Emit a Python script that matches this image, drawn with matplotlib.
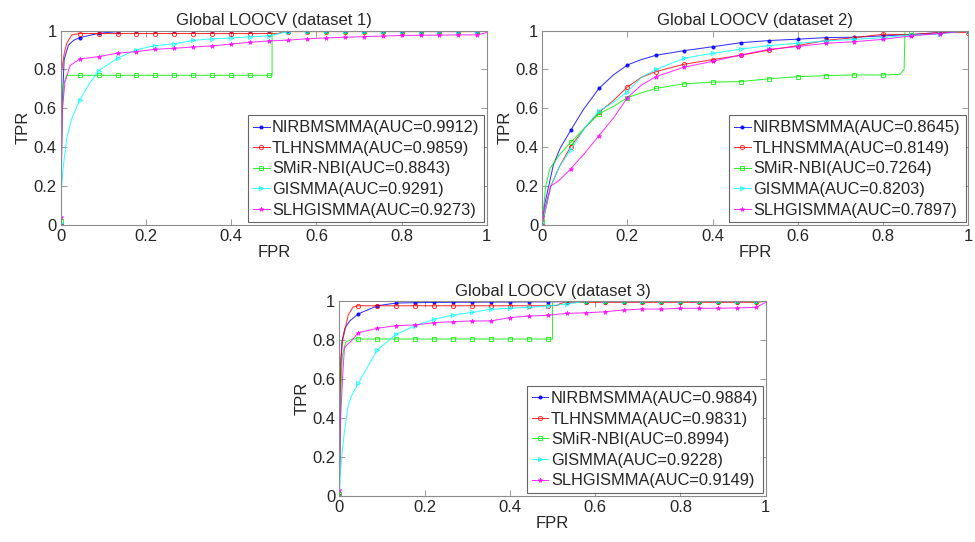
import numpy as np
import matplotlib
matplotlib.use("Agg")
import matplotlib.pyplot as plt

plt.rcParams["font.family"] = ["Liberation Sans", "DejaVu Sans"]

methods = ["NIRBMSMMA", "TLHNSMMA", "SMiR-NBI", "GISMMA", "SLHGISMMA"]
titles = ["Global LOOCV (dataset 1)", "Global LOOCV (dataset 2)", "Global LOOCV (dataset 3)"]
auc = [
    [0.9912, 0.9859, 0.8843, 0.9291, 0.9273],
    [0.8645, 0.8149, 0.7264, 0.8203, 0.7897],
    [0.9884, 0.9831, 0.8994, 0.9228, 0.9149],
]
tick_labels = ["0", "0.2", "0.4", "0.6", "0.8", "1"]

# marker grid of the curves (datasets 1 and 3 every 2/45, dataset 2 every 1/15)
g45 = [0.0444, 0.0889, 0.1333, 0.1778, 0.2222, 0.2667, 0.3111, 0.3556, 0.4, 0.4444, 0.4889,
       0.5333, 0.5778, 0.6222, 0.6667, 0.7111, 0.7556, 0.8, 0.8444, 0.8889, 0.9333, 0.9778]
mark_step = [2 / 45, 1 / 15, 2 / 45]

# ---- dataset 1 ----
d1_nir_x = [0, 0.003, 0.008, 0.018, 0.03] + g45 + [1.0]
d1_nir_y = [0, 0.6, 0.85, 0.925, 0.95,
            0.964, 0.986, 0.995, 0.996, 0.997, 0.997, 0.998, 0.998, 0.998, 0.998, 0.998,
            0.998, 0.998, 0.998, 0.998, 0.998, 0.998, 0.998, 0.999, 0.999, 0.999, 0.999, 1.0]
d1_tlh_x = [0, 0.002, 0.008, 0.014, 0.026] + g45[:11] + [0.51, 0.52] + g45[11:] + [1.0]
d1_tlh_y = [0, 0.79, 0.88, 0.935, 0.978] + [0.985] * 11 + [0.985, 0.993] + [0.995] * 11 + [1.0]
d1_smi_x = [0, 0.002, 0.006, 0.014] + g45[:11] + [0.496, 0.496] + g45[11:] + [1.0]
d1_smi_y = [0.02, 0.45, 0.72, 0.77] + [0.77] * 11 + [0.77, 0.998] + [0.998] * 11 + [1.0]
d1_gis_x = [0, 0.002, 0.006, 0.014, 0.026, 0.0444, 0.065] + g45[1:] + [1.0]
d1_gis_y = [0.01, 0.2, 0.3, 0.446, 0.549, 0.643, 0.72,
            0.794, 0.858, 0.902, 0.923, 0.932, 0.95, 0.958, 0.962, 0.968, 0.973, 0.995,
            0.997, 0.997, 0.998, 0.998, 0.998, 0.998, 0.998, 0.998, 0.998, 0.998, 1.0]
d1_slh_x = [0, 0.004, 0.01, 0.022] + g45 + [1.0]
d1_slh_y = [0.04, 0.6, 0.737, 0.82,
            0.854, 0.866, 0.884, 0.892, 0.904, 0.909, 0.916, 0.921, 0.931, 0.94, 0.947,
            0.951, 0.958, 0.962, 0.966, 0.969, 0.972, 0.975, 0.976, 0.977, 0.978, 0.978, 0.99]

# ---- dataset 2 ----
d2_nir_x = [0, 0.005, 0.015, 0.026, 0.042, 0.0667, 0.096, 0.1333, 0.167, 0.2, 0.23, 0.2667,
            0.3333, 0.4, 0.4667, 0.5333, 0.6, 0.6667, 0.7333, 0.8, 0.8667, 0.9333, 1.0]
d2_nir_y = [0, 0.1, 0.2, 0.309, 0.395, 0.487, 0.592, 0.703, 0.772, 0.823, 0.849, 0.873,
            0.897, 0.917, 0.938, 0.949, 0.956, 0.964, 0.966, 0.973, 0.98, 0.99, 1.0]
d2_tlh_x = [0, 0.01, 0.02, 0.04, 0.0667, 0.1, 0.1333, 0.167, 0.2, 0.233, 0.2667, 0.3333,
            0.4, 0.4667, 0.5333, 0.6, 0.6667, 0.7333, 0.8, 0.8667, 0.9333, 1.0]
d2_tlh_y = [0, 0.1, 0.2, 0.3, 0.403, 0.5, 0.58, 0.64, 0.71, 0.76, 0.789, 0.827,
            0.851, 0.873, 0.9, 0.923, 0.95, 0.964, 0.981, 0.98, 0.99, 0.99]
d2_smi_x = [0, 0.008, 0.018, 0.04, 0.0667, 0.1, 0.1333, 0.167, 0.2, 0.233, 0.2667, 0.3333,
            0.4, 0.4667, 0.5333, 0.6, 0.6667, 0.7333, 0.8, 0.84, 0.85, 0.852, 0.8667, 0.9333, 1.0]
d2_smi_y = [0.02, 0.2, 0.29, 0.36, 0.425, 0.5, 0.572, 0.61, 0.655, 0.68, 0.703, 0.726,
            0.735, 0.738, 0.752, 0.763, 0.768, 0.772, 0.772, 0.775, 0.8, 1.0, 1.0, 1.0, 1.0]
d2_gis_x = [0, 0.02, 0.04, 0.0667, 0.1, 0.1333, 0.167, 0.2, 0.233, 0.2667, 0.3333,
            0.4, 0.4667, 0.5333, 0.6, 0.6667, 0.7333, 0.8, 0.8667, 0.9333, 1.0]
d2_gis_y = [0.01, 0.2, 0.3, 0.386, 0.5, 0.587, 0.63, 0.686, 0.76, 0.8, 0.858,
            0.883, 0.905, 0.923, 0.935, 0.947, 0.955, 0.964, 0.978, 0.982, 1.0]
d2_slh_x = [0, 0.01, 0.02, 0.04, 0.0667, 0.1, 0.1333, 0.167, 0.2, 0.233, 0.2667, 0.3333,
            0.4, 0.4667, 0.5333, 0.6, 0.6667, 0.7333, 0.8, 0.8667, 0.9333, 1.0]
d2_slh_y = [0.04, 0.12, 0.2, 0.23, 0.288, 0.37, 0.46, 0.55, 0.655, 0.72, 0.763, 0.812,
            0.842, 0.875, 0.904, 0.918, 0.935, 0.943, 0.955, 0.973, 0.985, 1.0]

# ---- dataset 3 ----
d3_nir_x = [0, 0.003, 0.006, 0.013, 0.025] + g45 + [1.0]
d3_nir_y = [0, 0.6, 0.79, 0.861, 0.9,
            0.935, 0.977, 0.991, 0.993, 0.994, 0.995, 0.995, 0.996, 0.996, 0.997, 0.997,
            0.998, 0.998, 0.998, 0.998, 0.998, 0.998, 0.998, 0.998, 0.998, 0.998, 0.998, 1.0]
d3_tlh_x = [0, 0.003, 0.008, 0.021, 0.032] + g45[:11] + [0.51, 0.52] + g45[11:] + [1.0]
d3_tlh_y = [0, 0.7, 0.8, 0.93, 0.97] + [0.977] * 11 + [0.978, 0.99] + [0.995] * 11 + [1.0]
d3_smi_x = [0, 0.003, 0.007, 0.015, 0.03] + g45[:11] + [0.5, 0.5] + g45[11:] + [1.0]
d3_smi_y = [0.01, 0.5, 0.72, 0.79, 0.806] + [0.806] * 11 + [0.806, 0.999] + [0.999] * 11 + [1.0]
d3_gis_x = [0, 0.003, 0.006, 0.012, 0.021, 0.03] + g45 + [1.0]
d3_gis_y = [0, 0.12, 0.21, 0.33, 0.467, 0.52,
            0.578, 0.749, 0.83, 0.875, 0.907, 0.93, 0.943, 0.959, 0.964, 0.969, 0.976,
            0.986, 1.0, 1.0, 1.0, 1.0, 1.0, 1.0, 1.0, 1.0, 1.0, 1.0, 1.0]
d3_slh_x = [0, 0.003, 0.008, 0.012, 0.02, 0.03] + g45 + [1.0]
d3_slh_y = [0.03, 0.4, 0.62, 0.76, 0.78, 0.8,
            0.838, 0.861, 0.875, 0.878, 0.89, 0.895, 0.899, 0.899, 0.916, 0.924, 0.928,
            0.938, 0.941, 0.946, 0.955, 0.96, 0.96, 0.964, 0.964, 0.964, 0.966, 0.969, 0.995]

curves = [
    [(d1_nir_x, d1_nir_y), (d1_tlh_x, d1_tlh_y), (d1_smi_x, d1_smi_y), (d1_gis_x, d1_gis_y), (d1_slh_x, d1_slh_y)],
    [(d2_nir_x, d2_nir_y), (d2_tlh_x, d2_tlh_y), (d2_smi_x, d2_smi_y), (d2_gis_x, d2_gis_y), (d2_slh_x, d2_slh_y)],
    [(d3_nir_x, d3_nir_y), (d3_tlh_x, d3_tlh_y), (d3_smi_x, d3_smi_y), (d3_gis_x, d3_gis_y), (d3_slh_x, d3_slh_y)],
]

styles = [
    dict(color="#0000ff", marker=".", ms=4.0),
    dict(color="#ff0000", marker="o", ms=3.0, mfc="none", mew=0.7),
    dict(color="#00ee00", marker="s", ms=2.6, mfc="none", mew=0.7),
    dict(color="#00ffff", marker=">", ms=3.0, mfc="none", mew=0.7),
    dict(color="#ff00ff", marker="*", ms=3.4, mew=0.5),
]

positions = [
    [0.0623, 0.585, 0.437, 0.3585],
    [0.5562, 0.585, 0.4366, 0.3585],
    [0.348, 0.0854, 0.4373, 0.3587],
]

fig = plt.figure(figsize=(9.75, 5.42), dpi=100)
frame = "#8c8c8c"

for k in range(3):
    ax = fig.add_axes(positions[k])
    step = mark_step[k]
    for j, (x, y) in enumerate(curves[k]):
        x = np.array(x)
        q = x / step
        marks = list(np.where(np.abs(q - np.round(q)) < 0.02)[0])
        ax.plot(x, y, lw=0.75, alpha=0.8, markevery=marks,
                label=f"{methods[j]}(AUC={auc[k][j]:.4f})", **styles[j])
    ax.set_xlim(0, 1)
    ax.set_ylim(0, 1)
    ticks = np.linspace(0, 1, 6)
    ax.set_xticks(ticks)
    ax.set_yticks(ticks)
    ax.set_xticklabels(tick_labels)
    ax.set_yticklabels(tick_labels)
    ax.tick_params(direction="in", top=True, right=True, length=4, width=0.6,
                   color=frame, labelsize=12, labelcolor="#262626", pad=3)
    for s in ax.spines.values():
        s.set_color(frame)
        s.set_linewidth(0.8)
    ax.set_title(titles[k], fontsize=12, color="#262626", pad=4)
    ax.set_xlabel("FPR", fontsize=12, color="#262626", labelpad=1)
    ax.set_ylabel("TPR", fontsize=12, color="#262626", labelpad=2)
    leg = ax.legend(loc="lower right", fontsize=11.8, frameon=True, fancybox=False,
                    edgecolor="#404040", handlelength=1.0, handletextpad=0.15,
                    labelspacing=0.34, borderpad=0.3, borderaxespad=0.15)
    leg.get_frame().set_linewidth(0.8)
    for t in leg.get_texts():
        t.set_color("#262626")

fig.savefig("out.png", dpi=100)
